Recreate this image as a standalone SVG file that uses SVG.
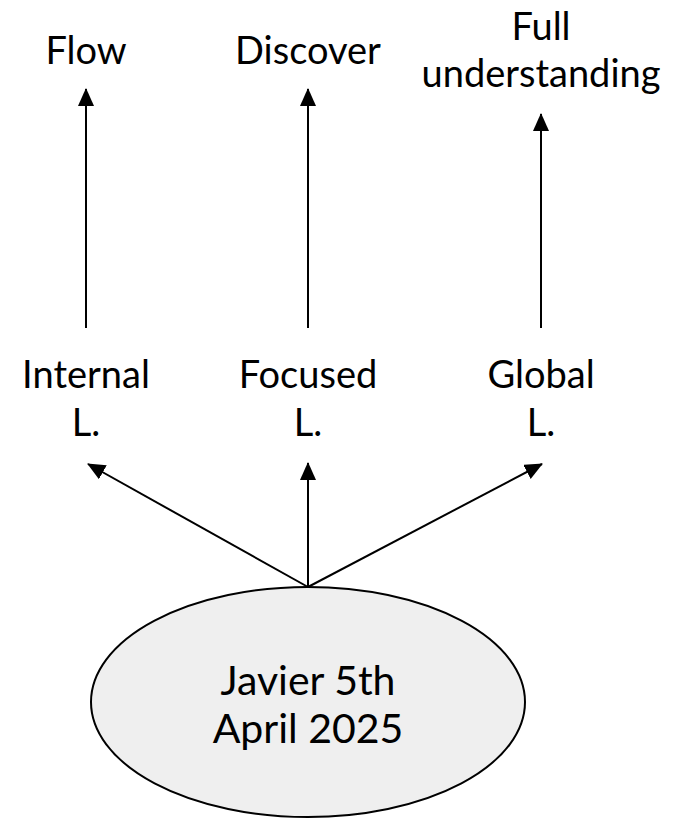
<svg xmlns="http://www.w3.org/2000/svg" width="687" height="822" viewBox="0 0 687 822">
<defs>
<style>
text{font-family:Lato,"Open Sans",sans-serif;font-size:38px;fill:#000;text-anchor:middle}
.big{font-size:41px}
.c{stroke:#000;stroke-width:2;fill:none}
</style>
<marker id="ah" markerWidth="18" markerHeight="16" refX="17" refY="8" orient="auto" markerUnits="userSpaceOnUse">
<path d="M0,0 L18,8 L0,16 Z" fill="#000"/>
</marker>
</defs>
<rect width="687" height="822" fill="#fff"/>
<g id="connectors">
<line class="c" x1="86" y1="328" x2="86" y2="89" marker-end="url(#ah)"/>
<line class="c" x1="308" y1="328" x2="308" y2="89" marker-end="url(#ah)"/>
<line class="c" x1="541" y1="328" x2="541" y2="114" marker-end="url(#ah)"/>
<line class="c" x1="308" y1="587" x2="88" y2="464" marker-end="url(#ah)"/>
<line class="c" x1="308" y1="587" x2="308" y2="463" marker-end="url(#ah)"/>
<line class="c" x1="308" y1="587" x2="542" y2="464" marker-end="url(#ah)"/>
</g>
<g id="flow"><text x="86" y="64">Flow</text></g>
<g id="discover"><text x="308" y="64">Discover</text></g>
<g id="full"><text x="541" y="40">Full</text><text x="541" y="87">understanding</text></g>
<g id="internal"><text x="86" y="388">Internal</text><text x="86" y="436">L.</text></g>
<g id="focused"><text x="308" y="388">Focused</text><text x="308" y="436">L.</text></g>
<g id="global"><text x="541" y="388">Global</text><text x="541" y="436">L.</text></g>
<g id="javier">
<ellipse cx="308" cy="702" rx="217" ry="115" fill="#efefef" stroke="#000" stroke-width="2"/>
<text class="big" x="308" y="695">Javier 5th</text><text class="big" x="308" y="743">April 2025</text>
</g>
</svg>
